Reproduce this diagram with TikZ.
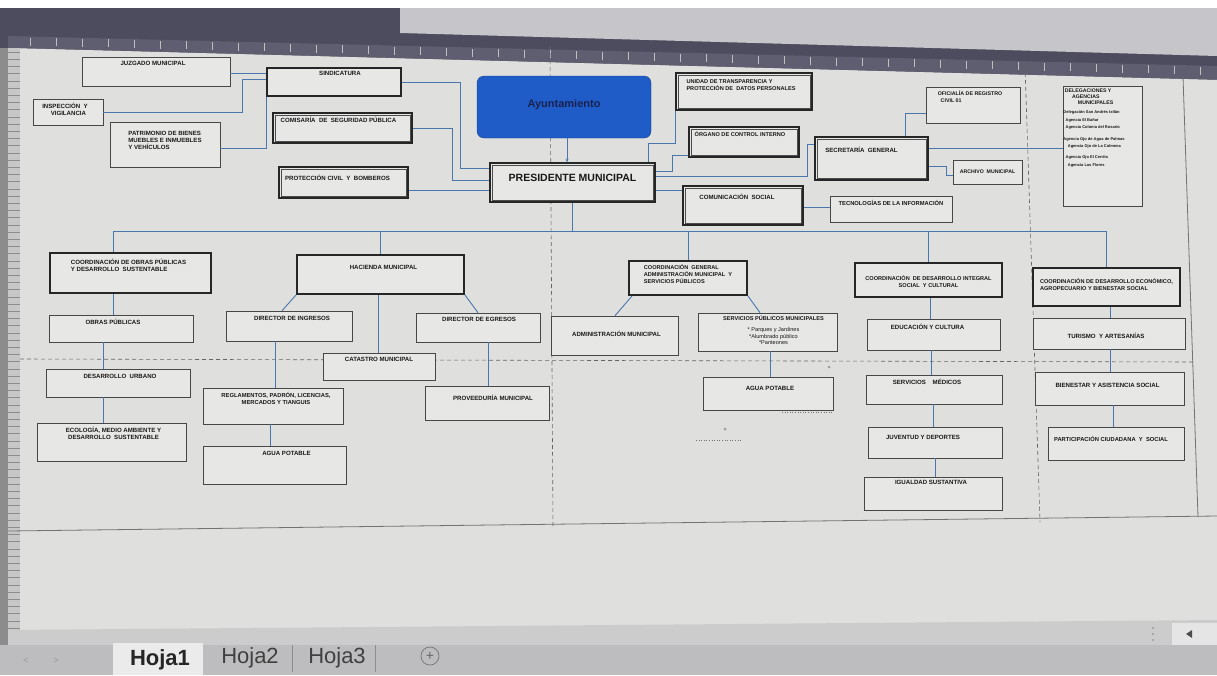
\documentclass[tikz,border=0pt]{standalone}
\usepackage{fontspec}
\setmainfont{Liberation Sans}
\usetikzlibrary{fit,arrows.meta}
\definecolor{sheet}{HTML}{DFDFDD}
\definecolor{boxfill}{HTML}{E7E7E5}
\definecolor{conn}{HTML}{4A76AE}
\definecolor{frame}{HTML}{4C4C5E}
\definecolor{rulerc}{HTML}{5E5E70}
\definecolor{topgray}{HTML}{C6C6CA}
\definecolor{ayun}{HTML}{1F5CC8}
\definecolor{ayuntxt}{HTML}{1A2250}
\definecolor{tabbar}{HTML}{BDBDC0}
\tikzset{
  bxsingle/.style={draw=black!72, line width=0.6pt, fill=boxfill, inner sep=0pt},
  bxdouble/.style={draw=black!85, line width=1.1pt, fill=boxfill, inner sep=0pt},
  bxthick/.style={draw=black!85, line width=1.8pt, fill=boxfill, inner sep=0pt},
  txt/.style={font=\bfseries\fontsize{6.1}{7}\selectfont, align=center, inner sep=0pt, anchor=north, text=black!90},
  txtl/.style={txt, align=left},
  cn/.style={draw=conn, line width=0.9pt},
  inner line/.style={draw=black!70, line width=0.5pt},
  pgbreak/.style={dashed, draw=black!60, line width=0.6pt, dash pattern=on 4pt off 3pt},
}
% #1 style, #2 name, #3 corner, #4 corner, #5 dx, #6 dy, #7 text style, #8 text
\newcommand\bx[8]{\node[#1, fit={(#3)(#4)}] (#2) {};
  \node[#7] (#2t) at ([xshift=#5pt,yshift=-#6pt]#2.north) {#8};}
\newcommand\dbl[1]{\draw[inner line] ([shift={(2.3pt,-2.3pt)}]#1.north west) rectangle ([shift={(-2.3pt,2.3pt)}]#1.south east);}
\begin{document}
\begin{tikzpicture}[x=1pt,y=-1pt]
\useasboundingbox (0,0) rectangle (1217,675);
% ---------- screen background ----------
\fill[white] (0,0) rectangle (1217,675);
\fill[frame] (0,8) -- (1217,8) -- (1217,80) -- (0,48) -- cycle;
\fill[topgray] (400,8) -- (1217,8) -- (1217,56) -- (400,33) -- cycle;
\fill[rulerc] (8,36) -- (1217,66) -- (1217,80) -- (8,48) -- cycle;
\foreach \i in {0,...,46} {
  \pgfmathsetmacro{\xx}{30+26*\i}
  \pgfmathsetmacro{\yy}{37+(\xx-8)*0.0248}
  \draw[black!25!white, line width=0.5pt] (\xx,\yy) -- (\xx,\yy+8);
}
\fill[sheet] (8,48) -- (1217,80) -- (1217,630) -- (8,630) -- cycle;
\fill[black!45] (0,48) rectangle (8,675);
\fill[black!22] (8,48) rectangle (20,630);
\foreach \j in {0,...,80} {
  \draw[black!45, line width=0.3pt] (8,52+7.2*\j) -- (20,52+7.2*\j);
}
% page borders and page breaks
\draw[black!55, line width=0.8pt] (8,531) -- (1217,516);
\draw[black!55, line width=0.8pt] (1183,77) -- (1198,517);
\draw[pgbreak] (550,46) -- (553,528);
\draw[pgbreak] (1025,66) -- (1040,522);
\draw[pgbreak] (20,359) -- (1195,362);
% ---------- bottom tab bar ----------
\fill[black!20] (8,630) -- (1217,620) -- (1217,645) -- (8,645) -- cycle;
\fill[tabbar] (0,645) rectangle (1217,675);
\fill[black!8] (113,643) rectangle (203,675);
\node[font=\bfseries\fontsize{22}{22}\selectfont, text=black!85] (hoja1) at (160,660) {Hoja1};
\node[font=\fontsize{22}{22}\selectfont, text=black!75] (hoja2) at (250,658) {Hoja2};
\node[font=\fontsize{22}{22}\selectfont, text=black!75] (hoja3) at (337,658) {Hoja3};
\draw[black!45, line width=0.6pt] (292,645) -- (292,672) (375,645) -- (375,672);
\node[draw=black!55, circle, line width=0.7pt, minimum size=18pt, inner sep=0pt, font=\fontsize{14}{14}\selectfont, text=black!60] (plus) at (430,656) {+};
\node[text=black!40, font=\fontsize{9}{9}\selectfont] (navl) at (26,661) {<};
\node[text=black!40, font=\fontsize{9}{9}\selectfont] (navr) at (56,661) {>};
\fill[white!90!black] (1172,623) rectangle (1217,645);
\fill[black!70] (1186,634) -- (1192,630) -- (1192,638) -- cycle;
\foreach \d in {628,634,640} { \fill[black!50] (1153,\d) circle (0.8pt); }
% ---------- boxes: top level ----------
\bx{bxsingle}{juz}{82,57}{230,86}{-3}{4}{txt}{JUZGADO MUNICIPAL}
\bx{bxsingle}{insp}{33,99}{103,125}{-3}{4}{txt}{INSPECCIÓN\ \ Y\\\ \ \ \ VIGILANCIA}
\bx{bxthick}{sind}{267,68}{401,96}{6}{4}{txt}{SINDICATURA}
\bx{bxsingle}{pat}{110,122}{220,167}{0}{9}{txtl}{PATRIMONIO DE BIENES\\MUEBLES E INMUEBLES\\Y VEHÍCULOS}
\bx{bxdouble}{com}{273,113}{412,143}{-4}{4}{txt}{COMISARÍA\ \ DE\ \ SEGURIDAD PÚBLICA}
\dbl{com}
\bx{bxdouble}{pc}{279,167}{408,198}{-6}{8}{txt}{PROTECCIÓN CIVIL\ \ Y\ \ BOMBEROS}
\dbl{pc}
\node[fill=ayun, draw=ayun!70!black, rounded corners=7pt, inner sep=0pt, fit={(477,76)(651,138)}] (ayun) {};
\node[font=\bfseries\fontsize{11}{12}\selectfont, text=ayuntxt] (ayunt) at ([yshift=2pt]ayun.center) {Ayuntamiento};
\bx{bxdouble}{pres}{490,163}{655,202}{0}{12}{txt, font=\bfseries\fontsize{10.5}{11}\selectfont}{PRESIDENTE MUNICIPAL}
\dbl{pres}
\bx{bxdouble}{uni}{676,73}{812,110}{-3}{7}{txtl, font=\bfseries\fontsize{5.6}{6.8}\selectfont}{UNIDAD DE TRANSPARENCIA Y\\PROTECCIÓN DE\ \ DATOS PERSONALES}
\dbl{uni}
\bx{bxdouble}{org}{689,127}{799,157}{-4}{5}{txt, font=\bfseries\fontsize{5.6}{6.8}\selectfont}{ÓRGANO DE CONTROL INTERNO}
\dbl{org}
\bx{bxdouble}{sec}{815,137}{928,180}{-10}{10}{txt}{SECRETARÍA\ \ GENERAL}
\dbl{sec}
\bx{bxsingle}{ofi}{926,87}{1020,123}{-3}{4}{txtl, font=\bfseries\fontsize{5.3}{6.6}\selectfont}{OFICIALÍA DE REGISTRO\\\ \ CIVIL 01}
\bx{bxsingle}{arc}{953,160}{1022,184}{0}{10}{txt, font=\bfseries\fontsize{5.2}{6}\selectfont}{ARCHIVO\ \ MUNICIPAL}
\bx{bxdouble}{cs}{683,186}{803,225}{-6}{8}{txt}{COMUNICACIÓN\ \ SOCIAL}
\dbl{cs}
\bx{bxsingle}{tec}{830,196}{952,222}{0}{4}{txt, font=\bfseries\fontsize{5.8}{7}\selectfont}{TECNOLOGÍAS DE LA INFORMACIÓN}
\node[bxsingle, fit={(1063,86)(1142,206)}] (del) {};
\node[txtl, font=\bfseries\fontsize{5.2}{6.2}\selectfont, anchor=north west] (delt) at ([xshift=2pt,yshift=-3pt]del.north west) {DELEGACIONES Y\\\ \ \ \ \ AGENCIAS\\\ \ \ \ \ \ \ \ \ MUNICIPALES};
\node[txt, font=\bfseries\fontsize{4}{7.4}\selectfont, anchor=north west, align=left] (dell) at ([xshift=0.5pt,yshift=-25pt]del.north west)
 {Delegación San Andrés Ixtlán\\\ \ Agencia El Bañar\\\ \ Agencia Colonia del Rosario\\[4pt]Agencia Ojo de Agua de Palmas\\\ \ \ \ Agencia Ojo de La Colmena\\[4pt]\ \ Agencia Ojo El Cerrito\\\ \ \ \ Agencia Las Flores};
% ---------- second level ----------
\bx{bxthick}{cob}{50,253}{211,293}{-2}{7}{txtl}{COORDINACIÓN DE OBRAS PÚBLICAS\\Y DESARROLLO\ \ SUSTENTABLE}
\bx{bxthick}{hac}{297,255}{464,294}{3}{11}{txt}{HACIENDA MUNICIPAL}
\bx{bxthick}{cgen}{629,261}{747,295}{0}{4}{txtl, font=\bfseries\fontsize{5.6}{7}\selectfont}{COORDINACIÓN\ \ GENERAL\\ADMINISTRACIÓN MUNICIPAL\ \ Y\\SERVICIOS PÚBLICOS}
\bx{bxthick}{cdi}{855,263}{1002,297}{0}{13}{txt, font=\bfseries\fontsize{5.6}{7}\selectfont}{COORDINACIÓN\ \ DE DESARROLLO INTEGRAL\\SOCIAL\ \ Y CULTURAL}
\bx{bxthick}{cde}{1033,268}{1180,306}{0}{11}{txtl, font=\bfseries\fontsize{5.6}{7}\selectfont}{COORDINACIÓN DE DESARROLLO ECONÓMICO,\\AGROPECUARIO Y BIENESTAR SOCIAL}
% ---------- third level ----------
\bx{bxsingle}{op}{49,315}{193,342}{-8}{4}{txt}{OBRAS PÚBLICAS}
\bx{bxsingle}{din}{226,311}{352,341}{3}{5}{txt}{DIRECTOR DE INGRESOS}
\bx{bxsingle}{deg}{416,313}{540,342}{1}{4}{txt}{DIRECTOR DE EGRESOS}
\bx{bxsingle}{cat}{323,353}{435,380}{0}{4}{txt}{CATASTRO MUNICIPAL}
\bx{bxsingle}{du}{46,369}{190,397}{2}{5}{txt}{DESARROLLO\ \ URBANO}
\bx{bxsingle}{reg}{203,388}{343,424}{3}{4}{txt, font=\bfseries\fontsize{5.8}{7}\selectfont}{REGLAMENTOS, PADRÓN, LICENCIAS,\\MERCADOS Y TIANGUIS}
\bx{bxsingle}{prov}{425,386}{549,420}{6}{9}{txt}{PROVEEDURÍA MUNICIPAL}
\bx{bxsingle}{eco}{37,423}{186,461}{2}{4}{txt}{ECOLOGÍA, MEDIO AMBIENTE Y\\DESARROLLO\ \ SUSTENTABLE}
\bx{bxsingle}{agh}{203,446}{346,484}{12}{5}{txt}{AGUA POTABLE}
\bx{bxsingle}{adm}{551,316}{678,355}{2}{15}{txt}{ADMINISTRACIÓN MUNICIPAL}
\bx{bxsingle}{sp}{698,313}{837,351}{6}{3}{txt, font=\bfseries\fontsize{5.6}{6.6}\selectfont}{SERVICIOS PÚBLICOS MUNICIPALES\\[4pt]{\mdseries * Parques y Jardines}\\{\mdseries *Alumbrado público}\\{\mdseries *Panteones}}
\bx{bxsingle}{ags}{703,377}{833,410}{2}{9}{txt}{AGUA POTABLE}
\bx{bxsingle}{edu}{867,319}{1000,350}{-6}{5}{txt}{EDUCACIÓN Y CULTURA}
\bx{bxsingle}{sm}{866,375}{1002,404}{-7}{4}{txt}{SERVICIOS\ \ \ \ MÉDICOS}
\bx{bxsingle}{juv}{868,427}{1002,458}{-12}{8}{txt}{JUVENTUD Y DEPORTES}
\bx{bxsingle}{ig}{864,477}{1002,510}{-2}{3}{txt}{IGUALDAD SUSTANTIVA}
\bx{bxsingle}{tur}{1033,318}{1185,349}{-3}{15}{txt}{TURISMO\ \ Y ARTESANÍAS}
\bx{bxsingle}{bien}{1035,372}{1184,405}{-2}{11}{txt}{BIENESTAR Y ASISTENCIA SOCIAL}
\bx{bxsingle}{part}{1048,427}{1184,460}{-5}{9}{txt, font=\bfseries\fontsize{5.8}{7}\selectfont}{PARTICIPACIÓN CIUDADANA\ \ Y\ \ SOCIAL}
% ---------- connectors ----------
\draw[cn, -{Stealth[length=4pt,width=3pt]}] ([xshift=3pt]ayun.south) -- ([xshift=3pt]ayun.south |- pres.north);
\draw[cn] (pres.south) -- (pres.south |- 0,231);
\draw[cn] ([xshift=-17pt]cob.north) |- (cde.north |- 0,231) -- (cde.north);
\draw[cn] (hac.north) -- (hac.north |- 0,231);
\draw[cn] (cgen.north) -- (cgen.north |- 0,231);
\draw[cn] (cdi.north) -- (cdi.north |- 0,231);
% left of presidente
\draw[cn] (sind.east) -| (460,168) -- (pres.west |- 0,168);
\draw[cn] (com.east) -| (452,180) -- (pres.west |- 0,180);
\draw[cn] (pc.east |- 0,190) -- (pres.west |- 0,190);
\draw[cn] (juz.east |- 0,73) -- (sind.west |- 0,73);
\draw[cn] (insp.east) -| (242,79) -- (sind.west |- 0,79);
\draw[cn] (pat.east |- 0,148) -| (sind.south west);
% right of presidente
\draw[cn] ([xshift=-7pt]pres.north east) |- (uni.south west |- 0,143) -- (uni.south west);
\draw[cn] (pres.east |- 0,171) -| (672,155) -- (org.west |- 0,155);
\draw[cn] (pres.east |- 0,176) -| (807,144) -- (sec.west |- 0,144);
\draw[cn] (pres.east |- 0,190) -- (cs.west |- 0,190);
\draw[cn] (cs.east |- 0,207) -- (tec.west |- 0,207);
\draw[cn] (sec.north -| 905,0) |- (ofi.west |- 0,113);
\draw[cn] (sec.east |- 0,148) -- (del.west |- 0,148);
\draw[cn] (sec.east |- 0,166) -| (946,175) -- (arc.west |- 0,175);
% obras
\draw[cn] (cob.south -| 113,0) -- (op.north -| 113,0);
\draw[cn] (op.south -| 103,0) -- (du.north -| 103,0);
\draw[cn] (du.south -| 103,0) -- (eco.north -| 103,0);
% hacienda
\draw[cn] (hac.south west) -- (din.north -| 282,0);
\draw[cn] (hac.south -| 378,0) -- (cat.north -| 378,0);
\draw[cn] (hac.south east) -- (deg.north -| 478,0);
\draw[cn] (din.south -| 275,0) -- (reg.north -| 275,0);
\draw[cn] (reg.south -| 270,0) -- (agh.north -| 270,0);
\draw[cn] (deg.south -| 488,0) -- (prov.north -| 488,0);
% coordinacion general
\draw[cn] ([xshift=4pt]cgen.south west) -- (adm.north -| 615,0);
\draw[cn] (cgen.south east) -- (sp.north -| 760,0);
\draw[cn] (sp.south -| 770,0) -- (ags.north -| 770,0);
% integral
\draw[cn] (cdi.south -| 930,0) -- (edu.north -| 930,0);
\draw[cn] (edu.south -| 931,0) -- (sm.north -| 931,0);
\draw[cn] (sm.south -| 933,0) -- (juv.north -| 933,0);
\draw[cn] (juv.south -| 935,0) -- (ig.north -| 935,0);
% economico
\draw[cn] (cde.south -| 1110,0) -- (tur.north -| 1110,0);
\draw[cn] (tur.south -| 1110,0) -- (bien.north -| 1110,0);
\draw[cn] (bien.south -| 1113,0) -- (part.north -| 1113,0);
% stray marks
\draw[dotted, black!55, line width=0.6pt] (696,440) -- (742,440);
\draw[dotted, black!55, line width=0.6pt] (782,412) -- (834,412);
\draw[black!50, line width=0.4pt] (725,429) circle (1.2pt);
\draw[black!50, line width=0.4pt] (829,367) circle (1.2pt);
\end{tikzpicture}
\end{document}
